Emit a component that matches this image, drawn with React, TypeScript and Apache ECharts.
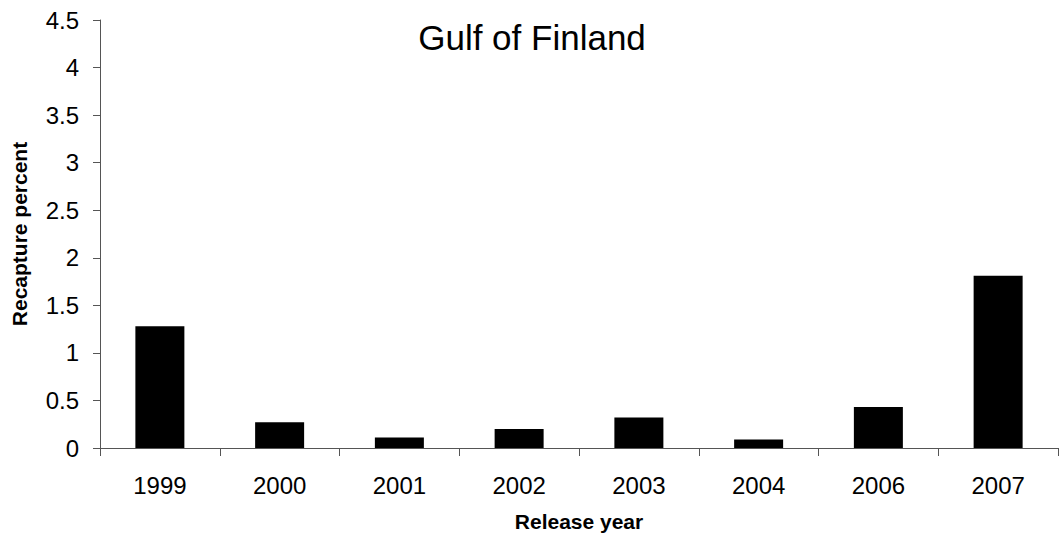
import React, { useEffect, useRef } from "react";
import * as echarts from "echarts";

const titleText = "Gulf of Finland";
const categories = ["1999", "2000", "2001", "2002", "2003", "2004", "2006", "2007"];
const recapturePercent = [1.28, 0.27, 0.11, 0.2, 0.32, 0.09, 0.43, 1.81];
const yAxisName = "Recapture percent";
const xAxisName = "Release year";

const FONT = "'Liberation Sans', Arial, sans-serif";

export default function App() {
  const ref = useRef<HTMLDivElement>(null);
  useEffect(() => {
    if (!ref.current) return;
    const chart = echarts.init(ref.current, undefined, { renderer: "svg" });
    chart.setOption({
      animation: false,
      backgroundColor: "#ffffff",
      title: {
        text: titleText,
        left: "center",
        top: 15,
        textStyle: { fontFamily: FONT, fontSize: 35, fontWeight: "normal", color: "#000" },
      },
      grid: { left: 100, right: 6, top: 20, bottom: 91, containLabel: false },
      xAxis: {
        type: "category",
        data: categories,
        name: xAxisName,
        nameLocation: "middle",
        nameGap: 63,
        nameTextStyle: { fontFamily: FONT, fontSize: 21, fontWeight: "bold", color: "#000" },
        axisLine: { show: true, lineStyle: { color: "#555", width: 1 } },
        axisTick: { show: true, inside: false, length: 8, alignWithLabel: false, lineStyle: { color: "#555" } },
        axisLabel: { fontFamily: FONT, fontSize: 24, color: "#000", margin: 25 },
        splitLine: { show: false },
      },
      yAxis: {
        type: "value",
        min: 0,
        max: 4.5,
        interval: 0.5,
        name: yAxisName,
        nameLocation: "middle",
        nameGap: 70,
        nameRotate: 90,
        nameTextStyle: { fontFamily: FONT, fontSize: 21, fontWeight: "bold", color: "#000" },
        axisLine: { show: true, lineStyle: { color: "#555", width: 1 } },
        axisTick: { show: true, inside: false, length: 7, lineStyle: { color: "#555" } },
        axisLabel: { fontFamily: FONT, fontSize: 24, color: "#000", margin: 21 },
        splitLine: { show: false },
      },
      series: [
        {
          type: "bar",
          data: recapturePercent,
          barWidth: 49,
          itemStyle: { color: "#000" },
        },
      ],
    });
    return () => chart.dispose();
  }, []);
  return (
    <div
      ref={ref}
      style={{ position: "fixed", left: 0, top: 0, width: 1064, height: 539, background: "#fff" }}
    />
  );
}
